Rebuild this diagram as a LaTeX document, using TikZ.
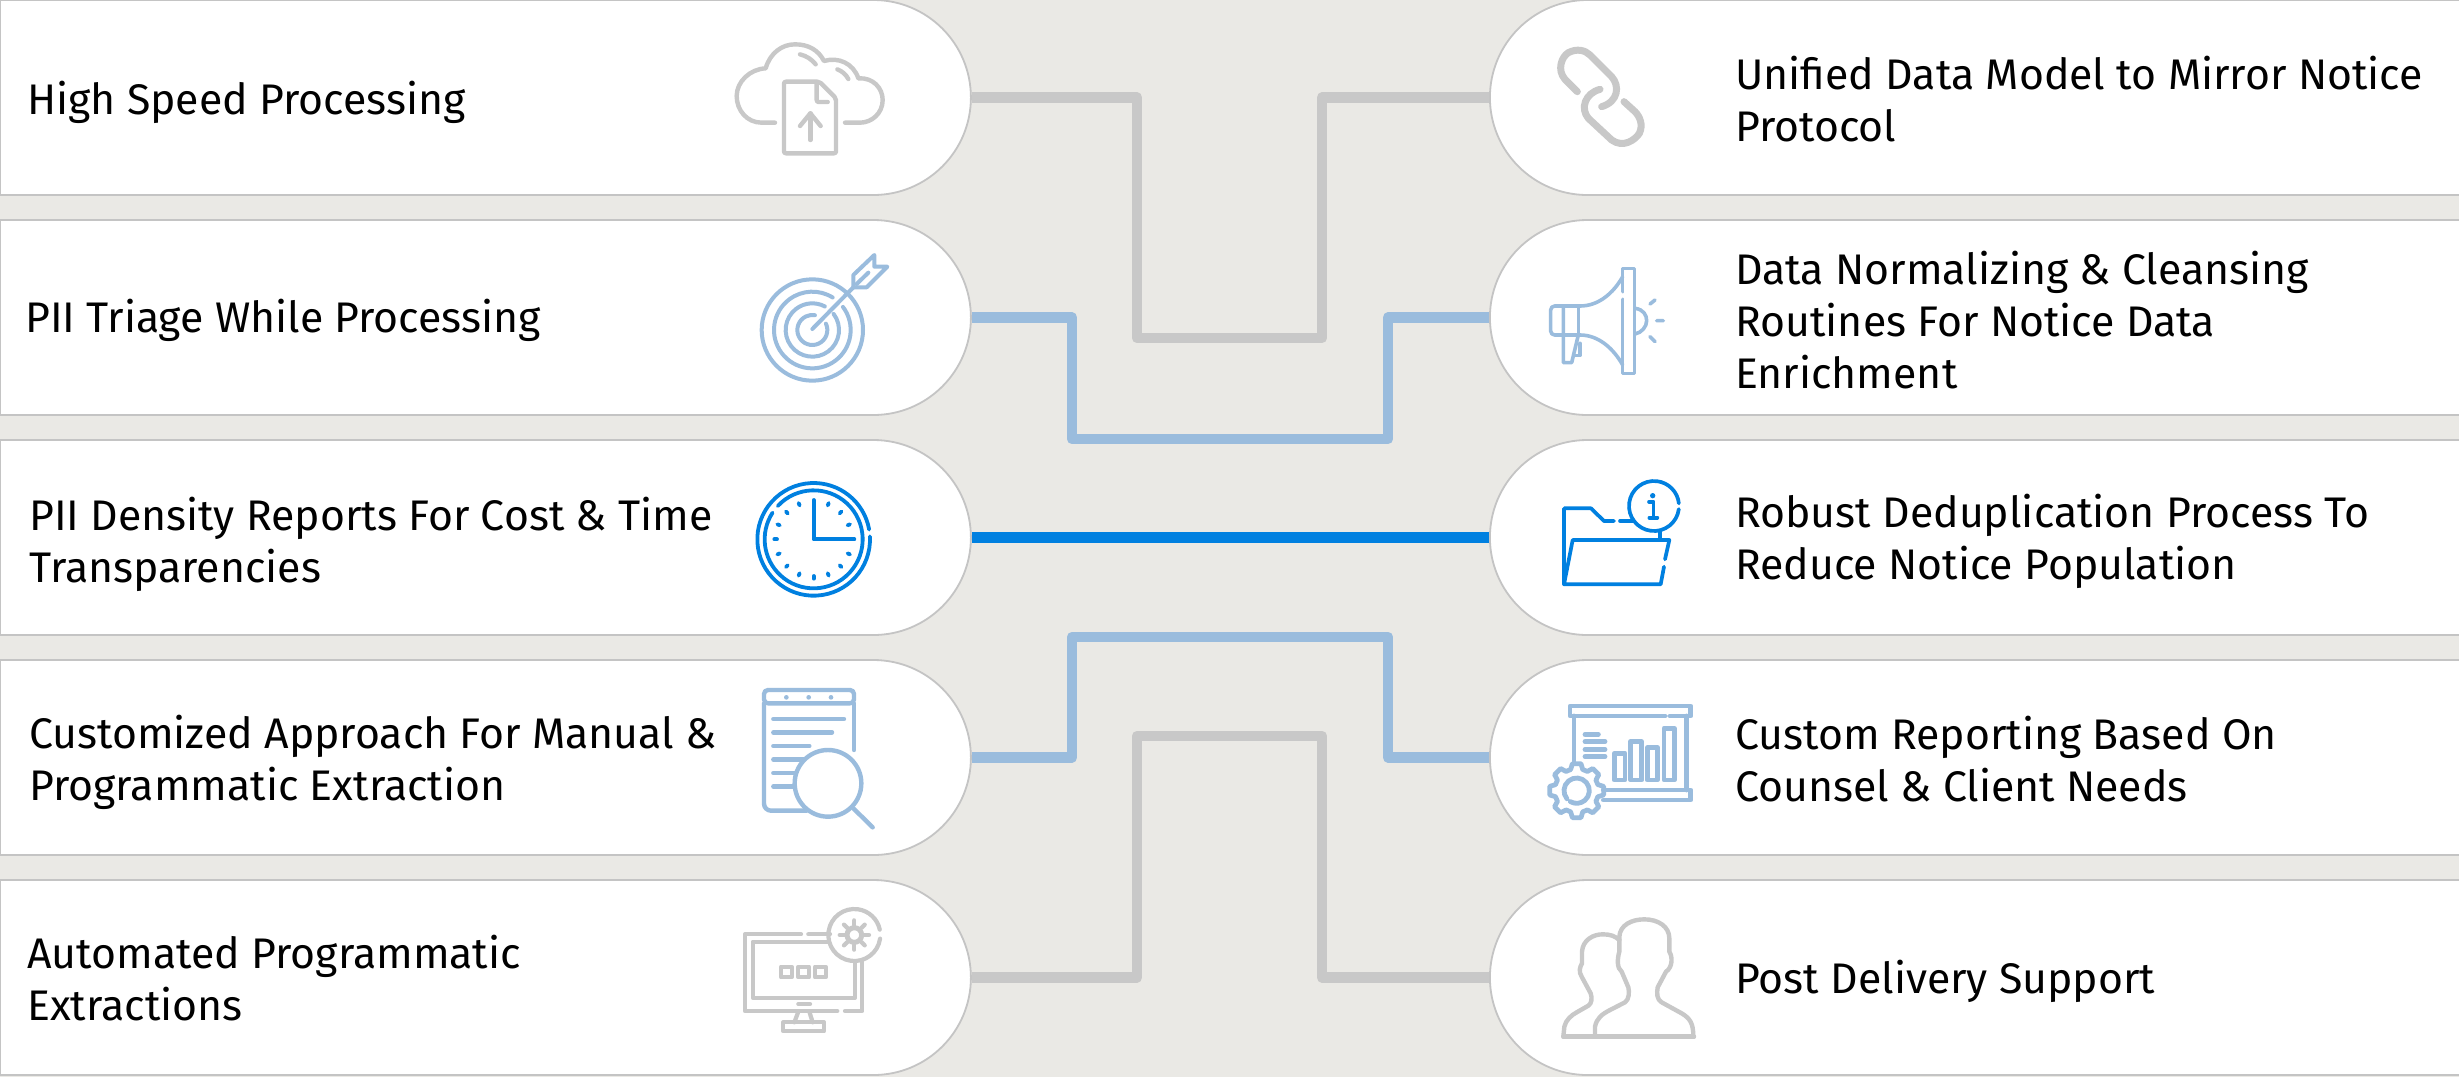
\documentclass[tikz,border=0pt]{standalone}
\usepackage{fontspec}
\setmainfont{Fira Sans}
\usetikzlibrary{shapes.misc}
\definecolor{bgc}{HTML}{EAE9E5}
\definecolor{edgec}{HTML}{C4C4C4}
\definecolor{greyc}{HTML}{C8C8C8}
\definecolor{softb}{HTML}{9ABCDD}
\definecolor{strongb}{HTML}{0080E0}
\tikzset{
  pillL/.style={rounded rectangle,rounded rectangle west arc=none,draw=edgec,line width=1.8pt,fill=white,minimum width=971pt,minimum height=195pt,inner sep=0pt,anchor=west},
  pillR/.style={rounded rectangle,rounded rectangle east arc=none,draw=edgec,line width=1.8pt,fill=white,minimum width=974pt,minimum height=195pt,inner sep=0pt,anchor=west},
  lbl/.style={anchor=west,align=left,inner sep=0pt,font=\fontsize{42.8}{52}\selectfont,text=black},
  conn/.style={line width=10.5pt,line join=round},
  ico/.style={line width=#1,line cap=round,line join=round},
  zm/.style 2 args={shift={(#1,#2)},x=0.33333pt,y=-0.33333pt},
}
\begin{document}
\begin{tikzpicture}[x=1pt,y=-1pt]
\useasboundingbox (0,0) rectangle (2459,1077);
\fill[bgc] (0,0) rectangle (2459,1077);
% connector bends
\coordinate (a1) at (1137,338); \coordinate (a2) at (1322,338);
\coordinate (b1) at (1072,439); \coordinate (b2) at (1388,439);
\coordinate (d1) at (1072,637); \coordinate (d2) at (1388,637);
\coordinate (e1) at (1137,736); \coordinate (e2) at (1322,736);
% pills
\node[pillL] (l1) at (-1,97.5) {};
\node[pillL] (l2) at (-1,317.5) {};
\node[pillL] (l3) at (-1,537.5) {};
\node[pillL] (l4) at (-1,757.5) {};
\node[pillL] (l5) at (-1,977.5) {};
\node[pillR] (r1) at (1489,97.5) {};
\node[pillR] (r2) at (1489,317.5) {};
\node[pillR] (r3) at (1489,537.5) {};
\node[pillR] (r4) at (1489,757.5) {};
\node[pillR] (r5) at (1489,977.5) {};
% connectors
\draw[conn,greyc] (l1.east) -| (a1) -- (a2) |- (r1.west);
\draw[conn,softb] (l2.east) -| (b1) -- (b2) |- (r2.west);
\draw[conn,strongb] (l3.east) -- (r3.west);
\draw[conn,softb] (l4.east) -| (d1) -- (d2) |- (r4.west);
\draw[conn,greyc] (l5.east) -| (e1) -- (e2) |- (r5.west);
% labels
\node[lbl] (t1) at (27,102) {High Speed Processing};
\node[lbl] (t2) at (25,320) {PII Triage While Processing};
\node[lbl] (t3) at (29,544) {PII Density Reports For Cost \& Time\\Transparencies};
\node[lbl] (t4) at (29,762) {Customized Approach For Manual \&\\Programmatic Extraction};
\node[lbl] (t5) at (27,978.5) {Automated Programmatic\\Extractions};
\node[lbl] (t6) at (1735,99.5) {Unified Data Model to Mirror Notice\\Protocol};
\node[lbl] (t7) at (1735,320) {Data Normalizing \& Cleansing\\Routines For Notice Data\\Enrichment};
\node[lbl] (t8) at (1735,541.5) {Robust Deduplication Process To\\Reduce Notice Population};
\node[lbl] (t9) at (1735,759) {Custom Reporting Based On\\Counsel \& Client Needs};
\node[lbl] (t10) at (1735,981) {Post Delivery Support};
% --- cloud icon
\begin{scope}[zm={680}{0},greyc,ico=4.4pt]
\draw (285,368) -- (245,368) .. controls (200,368) and (170,330) .. (170,288) .. controls (170,245) and (210,207) .. (257,205) .. controls (270,160) and (305,133) .. (345,133) .. controls (385,133) and (415,150) .. (432,183) .. controls (475,170) and (520,190) .. (535,235) .. controls (580,232) and (608,265) .. (608,300) .. controls (608,340) and (575,368) .. (540,368) -- (495,368);
\draw (360,163) .. controls (380,168) and (395,178) .. (407,193);
\draw (472,208) .. controls (485,213) and (497,222) .. (505,237);
\draw[rounded corners=2pt] (312,245) -- (312,460) -- (468,460) -- (468,295) -- (418,245) -- cycle;
\draw[rounded corners=2pt] (410,250) -- (410,306) -- (443,306);
\draw (391,420) -- (391,340);
\draw (360,378) -- (391,340) -- (422,378);
\end{scope}
% --- target icon
\begin{scope}[zm={680}{0},softb,ico=4pt]
\draw (397,990) circle[radius=152];
\draw ([shift={(-37:115)}]397,990) arc[start angle=-37,end angle=302,radius=115];
\draw ([shift={(-37:80)}]397,990) arc[start angle=-37,end angle=298,radius=80];
\draw ([shift={(-25:45)}]397,990) arc[start angle=-25,end angle=280,radius=45];
\draw (397,987) -- (520,862);
\draw (520,862) -- (520,825) -- (583,765) -- (583,800) -- (622,800) -- (560,862) -- cycle;
\draw (530,852) -- (565,818);
\end{scope}
% --- clock icon
\begin{scope}[zm={700}{440},strongb,ico=3.8pt]
\draw ([shift={(-3:169)}]341,298) arc[start angle=-3,end angle=350,radius=169];
\draw ([shift={(223:147)}]341,298) arc[start angle=223,end angle=573,radius=147];
\foreach \a in {22.5,45,67.5,90,112.5,135,157.5,180,202.5,225,247.5,292.5,315,337.5}
  \draw ([shift={(\a:110)}]341,298) -- ([shift={(\a:118)}]341,298);
\draw (341,180) -- (341,298) -- (463,298);
\end{scope}
% --- document search icon
\begin{scope}[zm={700}{440},softb,ico=4.4pt]
\draw[rounded corners=4pt] (192,750) rectangle (462,790);
\draw[rounded corners=7pt] (192,790) -- (192,1112) -- (320,1112);
\draw (462,790) -- (462,930);
\fill (259,772) circle[radius=7] (326,772) circle[radius=7] (393,772) circle[radius=7];
\draw (220,837) -- (432,837) (220,877) -- (396,877) (220,918) -- (328,918) (220,958) -- (310,958) (220,999) -- (285,999) (220,1040) -- (280,1040);
\draw[fill=white] (384,1030) circle[radius=100];
\draw (460,1105) -- (518,1162);
\end{scope}
% --- monitor icon
\begin{scope}[zm={700}{860},greyc,ico=4.2pt]
\draw (303,223) -- (135,223) -- (135,453) -- (412,453);
\draw (435,453) -- (487,453) -- (487,305);
\draw (325,223) -- (390,223);
\draw (385,245) -- (158,245) -- (158,413) -- (465,413) -- (465,305);
\draw (295,432) -- (330,432);
\draw (283,487) -- (295,455) (328,455) -- (338,487);
\draw (250,487) rectangle (372,514);
\draw (243,320) rectangle (275,352) (295,320) rectangle (327,352) (345,320) rectangle (377,352);
\draw ([shift={(8:78)}]463,225) arc[start angle=8,end angle=348,radius=78];
\draw[line width=5pt] (463,225) circle[radius=22];
\foreach \a in {0,45,...,315}
  \draw ([shift={(\a:30)}]463,225) -- ([shift={(\a:44)}]463,225);
\end{scope}
% --- link icon
\begin{scope}[zm={1500}{0},greyc,ico=7pt]
\draw (232,275) -- (195,238) .. controls (170,210) and (185,170) .. (205,158) .. controls (230,145) and (255,150) .. (270,165) -- (335,230) .. controls (360,258) and (355,305) .. (305,320);
\draw (300,268) .. controls (255,280) and (240,325) .. (265,355) -- (335,420) .. controls (370,445) and (405,420) .. (418,400) .. controls (430,375) and (420,350) .. (405,335) -- (372,305);
\end{scope}
% --- megaphone icon
\begin{scope}[zm={1500}{0},softb,ico=3.6pt]
\draw (368,875) -- (368,805) -- (403,805) -- (403,1120) -- (368,1120) -- (368,898);
\draw[rounded corners=4pt] (240,918) -- (152,918) -- (152,1005) -- (240,1005);
\draw (190,918) -- (190,1088) -- (215,1088) -- (235,1005);
\draw (235,918) -- (235,1005);
\draw (225,1066) -- (240,1066) -- (240,1030);
\draw (240,918) .. controls (295,918) and (340,880) .. (368,830);
\draw (240,1005) .. controls (295,1005) and (340,1045) .. (368,1095);
\draw (405,925) .. controls (430,928) and (440,945) .. (440,962) .. controls (440,980) and (425,998) .. (405,1002);
\draw (450,912) -- (465,900) (470,962) -- (490,962) (450,1010) -- (465,1025);
\end{scope}
% --- folder icon
\begin{scope}[zm={1500}{470},strongb,ico=3.7pt]
\draw (192,343) -- (192,115) -- (273,115) -- (312,153) -- (342,153);
\draw (360,153) -- (400,153);
\draw ([shift={(7:75)}]462,108) arc[start angle=7,end angle=354,radius=75];
\draw (480,185) -- (480,210);
\draw (495,268) -- (508,210) -- (218,210) -- (192,343) -- (482,343) -- (492,290);
\fill (458,77) circle[radius=8];
\draw (447,95) -- (460,95) -- (460,143);
\draw (448,143) -- (472,143);
\end{scope}
% --- report icon
\begin{scope}[zm={1500}{470},softb,ico=4.8pt]
\draw (495,738) -- (210,738) -- (210,708) -- (572,708) -- (572,738) -- (510,738);
\draw (222,738) -- (222,880);
\draw (560,738) -- (560,960);
\draw (310,960) -- (572,960) -- (572,990) -- (310,990);
\draw (255,793) -- (295,793) (255,815) -- (315,815) (255,838) -- (315,838) (255,860) -- (315,860);
\draw (343,850) rectangle (375,930) (392,815) rectangle (425,930) (442,833) rectangle (472,930) (492,775) rectangle (523,930);
\begin{scope}[shift={(230,962)}]
\draw (-16:66) foreach \a in {0,45,...,315} { -- (\a-16:66) -- (\a-9:82) -- (\a+9:82) -- (\a+16:66) } -- cycle;
\draw (140:38) arc[start angle=140,end angle=480,radius=38];
\end{scope}
\end{scope}
% --- people icon
\begin{scope}[zm={1500}{880},greyc,ico=4.4pt]
\draw (190,470) -- (582,470);
\draw (285,470) -- (285,440) .. controls (290,415) and (305,403) .. (330,390) -- (375,367) .. controls (388,358) and (388,335) .. (385,322) -- (365,275) .. controls (350,265) and (352,235) .. (358,215) -- (358,170) .. controls (360,135) and (395,118) .. (433,118) .. controls (475,118) and (508,140) .. (508,175) -- (508,215) .. controls (518,230) and (518,262) .. (498,275) -- (473,322) .. controls (470,340) and (470,358) .. (485,367) -- (545,400) .. controls (570,415) and (580,430) .. (580,470);
\draw (190,470) -- (193,440) .. controls (197,420) and (215,405) .. (230,397) -- (265,377) .. controls (275,370) and (277,355) .. (272,340) -- (245,290) .. controls (235,275) and (240,260) .. (246,250) -- (246,215) .. controls (248,180) and (280,162) .. (310,163) .. controls (330,163) and (345,168) .. (358,180);
\end{scope}
\end{tikzpicture}
\end{document}
